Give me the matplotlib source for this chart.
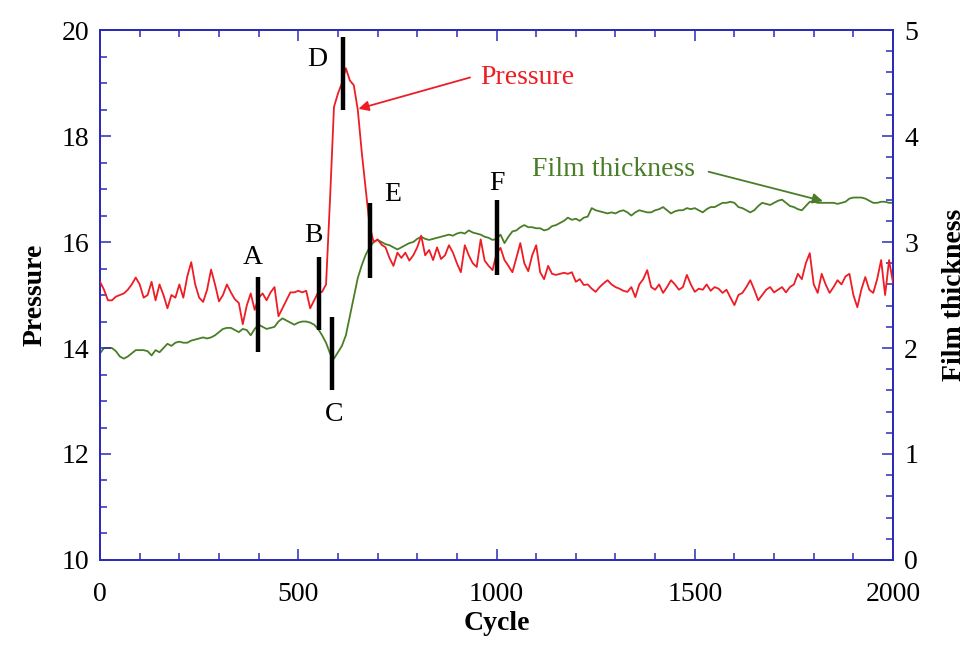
import numpy as np
import matplotlib
matplotlib.use("Agg")
import matplotlib.pyplot as plt
from matplotlib.ticker import MultipleLocator

plt.rcParams['font.family'] = ['Liberation Serif', 'DejaVu Serif']

# cycle axis: one reading every 10 cycles, 0..2000
cycle = np.arange(0, 2001, 10)

pressure = [
    15.25, 15.1, 14.9, 14.9, 14.97, 15.0, 15.03, 15.1, 15.2, 15.33,
    15.2, 14.95, 15.0, 15.25, 14.9, 15.2, 15.0, 14.75, 15.0, 14.95,
    15.2, 14.95, 15.35, 15.62, 15.2, 14.95, 14.87, 15.1, 15.48, 15.2,
    14.88, 15.0, 15.2, 15.05, 14.92, 14.85, 14.45, 14.8, 15.03, 14.72,
    14.95, 15.03, 14.9, 15.05, 15.15, 14.6, 14.75, 14.9, 15.05, 15.05,
    15.08, 15.05, 15.08, 14.75, 14.9, 15.05, 15.06, 15.2, 16.8, 18.55,
    18.8, 19.0, 19.28, 19.05, 18.96, 18.5, 17.7, 17.0, 16.3, 16.0,
    16.05, 15.95, 15.9, 15.7, 15.55, 15.8, 15.7, 15.8, 15.65, 15.75,
    15.9, 16.12, 15.75, 15.85, 15.66, 15.9, 15.68, 15.75, 15.94, 15.8,
    15.6, 15.43, 15.94, 15.75, 15.6, 15.53, 16.05, 15.65, 15.55, 15.47,
    15.79, 15.89, 15.66, 15.55, 15.43, 15.7, 15.98, 15.6, 15.45, 15.75,
    15.94, 15.43, 15.3, 15.55, 15.4, 15.38, 15.4, 15.42, 15.4, 15.43,
    15.25, 15.3, 15.19, 15.2, 15.12, 15.06, 15.15, 15.22, 15.28, 15.2,
    15.15, 15.12, 15.08, 15.06, 15.15, 14.96, 15.2, 15.3, 15.47, 15.15,
    15.1, 15.2, 15.04, 15.15, 15.28, 15.2, 15.1, 15.15, 15.38, 15.2,
    15.06, 15.12, 15.1, 15.2, 15.08, 15.15, 15.12, 15.04, 15.1, 14.95,
    14.81, 15.0, 15.04, 15.15, 15.28, 15.1, 14.9, 15.0, 15.1, 15.15,
    15.05, 15.1, 15.15, 15.05, 15.15, 15.2, 15.4, 15.3, 15.6, 15.79,
    15.2, 15.04, 15.4, 15.2, 15.04, 15.15, 15.28, 15.2, 15.35, 15.4,
    15.0, 14.77, 15.1, 15.34, 15.1, 15.04, 15.3, 15.66, 15.0, 15.66,
    15.23,
]

film = [
    1.95, 2.0, 2.0, 2.0, 1.97, 1.92, 1.9, 1.92, 1.95, 1.98,
    1.98, 1.98, 1.97, 1.93, 1.98, 1.96, 2.0, 2.04, 2.02, 2.05,
    2.06, 2.05, 2.05, 2.07, 2.08, 2.09, 2.1, 2.09, 2.1, 2.12,
    2.15, 2.18, 2.19, 2.19, 2.17, 2.15, 2.18, 2.17, 2.12, 2.18,
    2.22, 2.2, 2.18, 2.19, 2.2, 2.25, 2.28, 2.26, 2.24, 2.22,
    2.24, 2.25, 2.25, 2.24, 2.22, 2.18, 2.12, 2.05, 1.95, 1.9,
    1.96, 2.02, 2.12, 2.3, 2.48, 2.66, 2.78, 2.88, 2.95, 3.0,
    3.02, 3.0, 2.98, 2.97, 2.95, 2.93, 2.95, 2.97, 2.99, 3.0,
    3.03, 3.05, 3.03, 3.02, 3.03, 3.04, 3.05, 3.06, 3.07, 3.06,
    3.08, 3.09, 3.08, 3.11, 3.09, 3.08, 3.07, 3.05, 3.04, 3.02,
    3.03, 3.07, 2.99, 3.05, 3.1, 3.11, 3.14, 3.16, 3.14, 3.14,
    3.13, 3.13, 3.11, 3.12, 3.15, 3.16, 3.18, 3.2, 3.23, 3.21,
    3.22, 3.2, 3.23, 3.24, 3.32, 3.3, 3.29, 3.28, 3.27, 3.28,
    3.27, 3.29, 3.3, 3.28, 3.25, 3.28, 3.3, 3.29, 3.28, 3.28,
    3.3, 3.31, 3.33, 3.3, 3.27, 3.29, 3.3, 3.3, 3.32, 3.31,
    3.32, 3.3, 3.28, 3.31, 3.33, 3.33, 3.35, 3.37, 3.37, 3.38,
    3.37, 3.33, 3.32, 3.3, 3.28, 3.3, 3.34, 3.37, 3.36, 3.35,
    3.37, 3.39, 3.4, 3.37, 3.34, 3.33, 3.31, 3.3, 3.34, 3.38,
    3.38, 3.37, 3.37, 3.37, 3.37, 3.37, 3.36, 3.37, 3.38, 3.41,
    3.42, 3.42, 3.42, 3.41, 3.39, 3.37, 3.37, 3.38, 3.38, 3.37,
    3.37,
]

# event markers A-F: cycle, bar bottom/top (pressure units), label position
mark_names = ['A', 'B', 'C', 'D', 'E', 'F']
mark_cycle = [398, 552, 584, 613, 681, 1001]
mark_low = [13.92, 14.34, 13.2, 18.49, 15.32, 15.38]
mark_high = [15.34, 15.72, 14.58, 19.87, 16.74, 16.79]
label_x = [386, 537, 590, 548, 738, 1000]
label_y = [15.7, 16.12, 12.75, 19.45, 16.9, 17.1]

red = '#ee1c24'
green = '#4a7d28'
blue = '#2b2bb8'

fig = plt.figure(figsize=(9.76, 6.47), dpi=100)
ax = fig.add_axes([0.1025, 0.1345, 0.8125, 0.819])
ax2 = ax.twinx()

ax2.plot(cycle, film, color=green, lw=1.3)
ax.plot(cycle, pressure, color=red, lw=1.3, zorder=3)
ax.set_zorder(ax2.get_zorder() + 1)
ax.patch.set_visible(False)

ax.vlines(mark_cycle, mark_low, mark_high, color='black', lw=3.2, zorder=4)
for n, x, y in zip(mark_names, label_x, label_y):
    ax.text(x, y, n, fontsize=20, ha='center', va='center')

ax.annotate('', xy=(645, 18.5), xytext=(940, 19.12),
            arrowprops=dict(arrowstyle='-|>', color=red, lw=1.3, mutation_scale=15))
ax.text(960, 19.1, 'Pressure', color=red, fontsize=20, va='center')

ax2.annotate('', xy=(1830, 3.38), xytext=(1528, 3.67),
             arrowprops=dict(arrowstyle='-|>', color=green, lw=1.3, mutation_scale=15))
ax2.text(1500, 3.68, 'Film thickness', color=green, fontsize=20, va='center', ha='right')

ax.set_xlim(0, 2000)
ax.set_ylim(10, 20)
ax2.set_ylim(0, 5)

ax.xaxis.set_major_locator(MultipleLocator(500))
ax.xaxis.set_minor_locator(MultipleLocator(100))
ax.yaxis.set_major_locator(MultipleLocator(2))
ax.yaxis.set_minor_locator(MultipleLocator(0.5))
ax2.yaxis.set_major_locator(MultipleLocator(1))
ax2.yaxis.set_minor_locator(MultipleLocator(0.2))

for a in (ax, ax2):
    for s in a.spines.values():
        s.set_color(blue)
        s.set_linewidth(1.3)
    a.tick_params(which='both', direction='in', color=blue, labelsize=20, width=1.1)
    a.tick_params(which='major', length=8, pad=8)
    a.tick_params(which='minor', length=5)
ax.tick_params(which='both', top=True, right=False)
ax.tick_params(axis='x', which='major', pad=16)
ax2.tick_params(which='both', right=True, left=False)

ax.set_xlabel('Cycle', fontsize=20, fontweight='bold', labelpad=3)
ax.set_ylabel('Pressure', fontsize=20, fontweight='bold', labelpad=10)
ax2.set_ylabel('Film thickness', fontsize=20, fontweight='bold', labelpad=17)

fig.savefig('out.png', dpi=100)
